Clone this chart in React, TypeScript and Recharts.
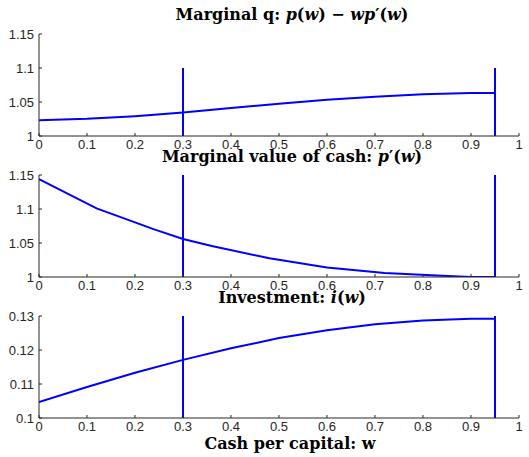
import { LineChart, Line, XAxis, YAxis, ReferenceLine } from "recharts";

// cash per capital grid and values
const xTicks = [0, 0.1, 0.2, 0.3, 0.4, 0.5, 0.6, 0.7, 0.8, 0.9, 1];
const wGrid = [0, 0.1, 0.2, 0.3, 0.4, 0.5, 0.6, 0.7, 0.8, 0.9, 0.95];
const marginalQ = [1.023, 1.0252, 1.0292, 1.0346, 1.0413, 1.0475, 1.0532, 1.0579, 1.0613, 1.0633, 1.0633];
const wCash = [0, 0.12, 0.24, 0.3, 0.36, 0.48, 0.6, 0.72, 0.84, 0.9, 0.95];
const marginalCash = [1.144, 1.101, 1.07, 1.056, 1.0455, 1.0275, 1.014, 1.006, 1.002, 1.0, 1.0];
const investment = [0.1047, 0.1091, 0.1133, 0.1171, 0.1205, 0.1235, 0.1258, 0.1276, 0.1287, 0.1292, 0.1292];

const qTicks = [1, 1.05, 1.1, 1.15];
const invTicks = [0.1, 0.11, 0.12, 0.13];
const boundaries = [0.3, 0.95];

const BLUE = "#0000ff";
const AXIS = "#262626";
const tickFont = { fontFamily: "'Liberation Sans', Arial, sans-serif", fontSize: 13, fill: AXIS };
const titleFont = "'DejaVu Serif', 'Liberation Serif', serif";

type PanelProps = {
  top: number;
  xs: number[];
  ys: number[];
  domain: [number, number];
  ticks: number[];
  markerTop: number;
};

function Panel({ top, xs, ys, domain, ticks, markerTop }: PanelProps) {
  const data = xs.map((w, i) => ({ w, v: ys[i] }));
  return (
    <div style={{ position: "absolute", left: 0, top }}>
      <LineChart width={529} height={160} data={data} margin={{ top: 34, right: 10, left: 0, bottom: 10 }}>
        <XAxis
          dataKey="w"
          type="number"
          domain={[0, 1]}
          ticks={xTicks}
          interval={0}
          height={14}
          tickSize={-3}
          tickMargin={7}
          stroke={AXIS}
          tick={tickFont}
          allowDataOverflow
        />
        <YAxis
          type="number"
          domain={domain}
          ticks={ticks}
          interval={0}
          width={39}
          tickSize={-3}
          tickMargin={8}
          stroke={AXIS}
          tick={tickFont}
          allowDataOverflow
        />
        {boundaries.map((b) => (
          <ReferenceLine
            key={b}
            segment={[
              { x: b, y: domain[0] },
              { x: b, y: markerTop },
            ]}
            stroke={BLUE}
            strokeWidth={2}
            ifOverflow="visible"
          />
        ))}
        <Line
          dataKey="v"
          type="linear"
          stroke={BLUE}
          strokeWidth={2}
          dot={false}
          isAnimationActive={false}
        />
      </LineChart>
    </div>
  );
}

function Title({ y, children }: { y: number; children: React.ReactNode }) {
  return (
    <div
      style={{
        position: "absolute",
        left: 92,
        width: 400,
        top: y,
        textAlign: "center",
        fontFamily: titleFont,
        fontWeight: "bold",
        fontSize: 16,
        lineHeight: "20px",
        color: "#000",
        whiteSpace: "nowrap",
      }}
    >
      {children}
    </div>
  );
}

const M = ({ children }: { children: React.ReactNode }) => <i>{children}</i>;

export default function App() {
  return (
    <div style={{ position: "absolute", left: 0, top: 0, width: 529, height: 457, background: "#fff" }}>
      <Panel top={0} xs={wGrid} ys={marginalQ} domain={[1, 1.15]} ticks={qTicks} markerTop={1.1} />
      <Panel top={141} xs={wCash} ys={marginalCash} domain={[1, 1.15]} ticks={qTicks} markerTop={1.15} />
      <Panel top={282} xs={wGrid} ys={investment} domain={[0.1, 0.13]} ticks={invTicks} markerTop={0.13} />
      <Title y={5}>
        Marginal q: <M>p</M>(<M>w</M>) − <M>wp</M>′(<M>w</M>)
      </Title>
      <Title y={147}>
        Marginal value of cash: <M>p</M>′(<M>w</M>)
      </Title>
      <Title y={288}>
        Investment: <M>i</M>(<M>w</M>)
      </Title>
      <div
        style={{
          position: "absolute",
          left: 90,
          width: 400,
          top: 434,
          textAlign: "center",
          fontFamily: titleFont,
          fontWeight: "bold",
          fontSize: 16,
          lineHeight: "20px",
        }}
      >
        Cash per capital: w
      </div>
    </div>
  );
}
